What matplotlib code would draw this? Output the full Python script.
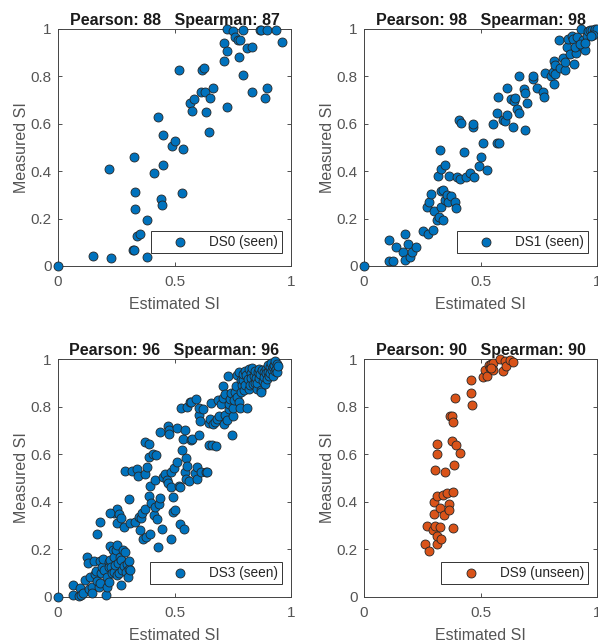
import matplotlib
matplotlib.use("Agg")
import matplotlib.pyplot as plt
import numpy as np

# -------------------------- data --------------------------
ds0_x = [0.0, 0.149, 0.227, 0.220, 0.323, 0.326, 0.327, 0.329, 0.332, 0.340, 0.352, 0.381, 0.380,
         0.412, 0.429, 0.441, 0.446, 0.452, 0.489, 0.504, 0.449, 0.535, 0.532, 0.518, 0.567, 0.585,
         0.575, 0.615, 0.618, 0.627, 0.633, 0.635, 0.652, 0.666, 0.648, 0.727, 0.713, 0.713, 0.724,
         0.727, 0.752, 0.759, 0.775, 0.772, 0.781, 0.792, 0.795, 0.812, 0.833, 0.833, 0.867, 0.873,
         0.896, 0.896, 0.887, 0.936, 0.961]
ds0_y = [0.0, 0.043, 0.034, 0.408, 0.069, 0.067, 0.460, 0.311, 0.240, 0.125, 0.133, 0.194, 0.039,
         0.394, 0.627, 0.282, 0.259, 0.553, 0.506, 0.529, 0.425, 0.494, 0.310, 0.826, 0.689, 0.705,
         0.656, 0.736, 0.826, 0.836, 0.735, 0.651, 0.710, 0.753, 0.565, 0.670, 0.865, 0.941, 0.907,
         1.000, 0.992, 0.966, 0.882, 0.955, 0.952, 0.997, 0.804, 0.920, 0.924, 0.736, 0.994, 0.994,
         0.994, 0.750, 0.708, 0.994, 0.947]

ds1_x = [0.0, 0.109, 0.106, 0.123, 0.139, 0.166, 0.177, 0.177, 0.189, 0.197, 0.206, 0.223, 0.255,
         0.269, 0.275, 0.280, 0.289, 0.295, 0.300, 0.315, 0.318, 0.320, 0.326, 0.329, 0.329, 0.332,
         0.338, 0.341, 0.346, 0.346, 0.355, 0.363, 0.361, 0.375, 0.392, 0.395, 0.401, 0.412, 0.429,
         0.438, 0.455, 0.472, 0.409, 0.418, 0.466, 0.469, 0.495, 0.504, 0.512, 0.529, 0.552, 0.569,
         0.572, 0.575, 0.581, 0.595, 0.607, 0.612, 0.615, 0.629, 0.641, 0.644, 0.647, 0.656, 0.664,
         0.667, 0.687, 0.690, 0.698, 0.690, 0.724, 0.727, 0.741, 0.767, 0.773, 0.775, 0.801, 0.813,
         0.815, 0.818, 0.821, 0.815, 0.835, 0.841, 0.856, 0.861, 0.864, 0.870, 0.876, 0.884, 0.893,
         0.898, 0.901, 0.910, 0.904, 0.916, 0.930, 0.936, 0.941, 0.947, 0.959, 0.961, 0.970, 0.979,
         0.987, 0.993, 0.999, 0.981, 0.926, 0.950, 0.973]
ds1_y = [0.0, 0.108, 0.022, 0.022, 0.081, 0.060, 0.135, 0.027, 0.093, 0.038, 0.060, 0.081, 0.149,
         0.247, 0.135, 0.268, 0.303, 0.153, 0.233, 0.192, 0.380, 0.205, 0.488, 0.410, 0.318, 0.248,
         0.192, 0.320, 0.428, 0.279, 0.299, 0.381, 0.269, 0.296, 0.268, 0.245, 0.377, 0.366, 0.480,
         0.374, 0.391, 0.377, 0.614, 0.604, 0.585, 0.599, 0.424, 0.461, 0.518, 0.405, 0.599, 0.520,
         0.647, 0.714, 0.520, 0.617, 0.611, 0.753, 0.637, 0.704, 0.588, 0.696, 0.707, 0.662, 0.801,
         0.644, 0.745, 0.728, 0.687, 0.575, 0.790, 0.801, 0.753, 0.734, 0.714, 0.815, 0.802, 0.818,
         0.867, 0.850, 0.809, 0.767, 0.954, 0.836, 0.878, 0.829, 0.861, 0.923, 0.959, 0.895, 0.969,
         0.959, 0.853, 0.899, 0.924, 0.968, 1.000, 0.927, 0.955, 0.910, 0.969, 0.992, 0.997, 0.994,
         0.986, 1.000, 1.000, 0.975, 0.937, 0.940, 0.969]

ds3_x = [0.0, 0.064, 0.066, 0.090, 0.095, 0.098, 0.108, 0.118, 0.126, 0.128, 0.134, 0.137, 0.145,
         0.146, 0.153, 0.158, 0.163, 0.166, 0.169, 0.175, 0.180, 0.180, 0.186, 0.190, 0.193, 0.198,
         0.206, 0.209, 0.212, 0.217, 0.217, 0.220, 0.223, 0.225, 0.229, 0.232, 0.235, 0.239, 0.242,
         0.245, 0.250, 0.253, 0.255, 0.258, 0.262, 0.266, 0.270, 0.272, 0.276, 0.279, 0.283, 0.286,
         0.290, 0.295, 0.300, 0.303, 0.306, 0.310, 0.240, 0.255, 0.223, 0.252, 0.260, 0.269, 0.180,
         0.283, 0.286, 0.303, 0.308, 0.318, 0.329, 0.338, 0.343, 0.346, 0.352, 0.358, 0.361, 0.366,
         0.372, 0.375, 0.378, 0.375, 0.382, 0.389, 0.389, 0.392, 0.394, 0.395, 0.398, 0.410, 0.406,
         0.415, 0.420, 0.418, 0.423, 0.429, 0.432, 0.438, 0.438, 0.446, 0.452, 0.460, 0.466, 0.472,
         0.474, 0.477, 0.477, 0.484, 0.486, 0.492, 0.495, 0.497, 0.502, 0.484, 0.509, 0.512, 0.518,
         0.524, 0.524, 0.529, 0.532, 0.535, 0.541, 0.544, 0.546, 0.548, 0.550, 0.552, 0.555, 0.563,
         0.567, 0.569, 0.572, 0.575, 0.587, 0.592, 0.595, 0.598, 0.604, 0.604, 0.607, 0.609, 0.615,
         0.624, 0.635, 0.638, 0.646, 0.646, 0.652, 0.655, 0.661, 0.666, 0.672, 0.678, 0.681, 0.687,
         0.692, 0.701, 0.707, 0.710, 0.712, 0.715, 0.718, 0.724, 0.730, 0.732, 0.735, 0.738, 0.741,
         0.747, 0.749, 0.752, 0.755, 0.758, 0.764, 0.767, 0.770, 0.775, 0.778, 0.781, 0.784, 0.787,
         0.790, 0.792, 0.795, 0.798, 0.801, 0.804, 0.807, 0.813, 0.815, 0.818, 0.821, 0.824, 0.827,
         0.830, 0.833, 0.839, 0.841, 0.844, 0.847, 0.850, 0.853, 0.856, 0.859, 0.862, 0.864, 0.867,
         0.870, 0.873, 0.876, 0.879, 0.882, 0.885, 0.888, 0.891, 0.894, 0.897, 0.900, 0.903, 0.906,
         0.909, 0.912, 0.915, 0.918, 0.921, 0.924, 0.927, 0.930, 0.933, 0.936, 0.939, 0.942, 0.945]
ds3_y = [0.0, 0.049, 0.007, 0.003, 0.039, 0.007, 0.018, 0.072, 0.170, 0.142, 0.035, 0.083, 0.043,
         0.015, 0.153, 0.098, 0.110, 0.068, 0.264, 0.043, 0.153, 0.058, 0.100, 0.127, 0.158, 0.115,
         0.007, 0.041, 0.086, 0.145, 0.127, 0.065, 0.155, 0.214, 0.127, 0.100, 0.196, 0.104, 0.169,
         0.133, 0.196, 0.218, 0.093, 0.141, 0.100, 0.166, 0.051, 0.155, 0.115, 0.197, 0.131, 0.190,
         0.106, 0.137, 0.082, 0.118, 0.150, 0.112, 0.351, 0.368, 0.354, 0.312, 0.349, 0.330, 0.317,
         0.294, 0.530, 0.410, 0.310, 0.529, 0.317, 0.536, 0.510, 0.338, 0.283, 0.333, 0.354, 0.242,
         0.650, 0.368, 0.251, 0.516, 0.547, 0.589, 0.642, 0.424, 0.266, 0.466, 0.396, 0.345, 0.601,
         0.380, 0.597, 0.493, 0.328, 0.208, 0.390, 0.418, 0.692, 0.284, 0.505, 0.516, 0.490, 0.720,
         0.481, 0.700, 0.683, 0.462, 0.524, 0.359, 0.420, 0.544, 0.366, 0.245, 0.712, 0.568, 0.468,
         0.462, 0.306, 0.796, 0.617, 0.662, 0.284, 0.525, 0.703, 0.494, 0.583, 0.797, 0.549, 0.487,
         0.821, 0.818, 0.660, 0.665, 0.523, 0.832, 0.547, 0.497, 0.681, 0.765, 0.793, 0.740, 0.524,
         0.792, 0.524, 0.524, 0.639, 0.732, 0.748, 0.815, 0.639, 0.728, 0.737, 0.634, 0.748, 0.826,
         0.760, 0.812, 0.838, 0.888, 0.726, 0.766, 0.852, 0.743, 0.927, 0.788, 0.810, 0.830, 0.858,
         0.681, 0.760, 0.796, 0.827, 0.860, 0.885, 0.841, 0.934, 0.945, 0.818, 0.796, 0.862, 0.913,
         0.891, 0.910, 0.937, 0.868, 0.951, 0.889, 0.933, 0.796, 0.915, 0.958, 0.873, 0.891, 0.941,
         0.920, 0.964, 0.895, 0.929, 0.900, 0.949, 0.922, 0.874, 0.901, 0.945, 0.957, 0.920, 0.938,
         0.871, 0.863, 0.953, 0.907, 0.945, 0.925, 0.893, 0.960, 0.941, 0.914, 0.976, 0.947, 0.930,
         0.966, 0.940, 0.985, 0.955, 0.965, 0.930, 0.975, 0.950, 0.990, 0.960, 0.980, 0.945, 0.970]

ds9_x = [0.260, 0.278, 0.269, 0.295, 0.300, 0.300, 0.303, 0.306, 0.312, 0.315, 0.312, 0.312, 0.312,
         0.326, 0.326, 0.332, 0.340, 0.343, 0.346, 0.355, 0.363, 0.366, 0.369, 0.378, 0.378, 0.381,
         0.383, 0.383, 0.386, 0.389, 0.395, 0.412, 0.461, 0.461, 0.464, 0.512, 0.518, 0.526, 0.535,
         0.541, 0.546, 0.555, 0.555, 0.584, 0.595, 0.607, 0.610, 0.627, 0.641, 0.544]
ds9_y = [0.224, 0.194, 0.299, 0.280, 0.399, 0.347, 0.299, 0.534, 0.642, 0.599, 0.426, 0.222, 0.256,
         0.375, 0.294, 0.242, 0.430, 0.343, 0.524, 0.438, 0.389, 0.365, 0.762, 0.759, 0.656, 0.734,
         0.442, 0.288, 0.555, 0.836, 0.638, 0.604, 0.910, 0.859, 0.808, 0.924, 0.955, 0.927, 0.973,
         0.963, 0.980, 0.983, 0.954, 1.000, 0.950, 0.990, 0.972, 0.994, 0.986, 0.962]

pearson = [88, 98, 96, 90]
spearman = [87, 98, 96, 90]
labels = ["DS0 (seen)", "DS1 (seen)", "DS3 (seen)", "DS9 (unseen)"]

# -------------------------- style --------------------------
plt.rcParams['font.family'] = ['Liberation Sans', 'DejaVu Sans']
BLUE = "#0072BD"
ORANGE = "#D95319"
GRAY = "#555555"
colors = [BLUE, BLUE, BLUE, ORANGE]
datasets = [(ds0_x, ds0_y), (ds1_x, ds1_y), (ds3_x, ds3_y), (ds9_x, ds9_y)]

fig = plt.figure(figsize=(5.98, 6.42), dpi=100)
W, H = 598, 642
# axes boxes in pixels: left, top, width, height
boxes = [(58, 29, 233, 237), (364, 29, 233, 237), (58, 359, 233, 238), (364, 359, 233, 238)]

for i, ((x, y), box) in enumerate(zip(datasets, boxes)):
    l, t, w, h = box
    ax = fig.add_axes([l / W, 1 - (t + h) / H, w / W, h / H])
    ax.scatter(x, y, s=42, color=colors[i], edgecolors="#262626", linewidths=0.6,
               label=labels[i], zorder=3, clip_on=False)
    ax.set_xlim(0, 1)
    ax.set_ylim(0, 1)
    ax.set_xticks([0, 0.5, 1])
    ax.set_xticklabels(["0", "0.5", "1"])
    ax.set_yticks([0, 0.2, 0.4, 0.6, 0.8, 1])
    ax.set_yticklabels(["0", "0.2", "0.4", "0.6", "0.8", "1"])
    ax.tick_params(direction="in", length=3, width=0.6, colors="#333333", labelcolor=GRAY,
                   labelsize=11, top=True, right=True)
    ax.tick_params(axis="x", pad=6.5)
    ax.tick_params(axis="y", pad=4.5)
    for sp in ax.spines.values():
        sp.set_color("#444444")
        sp.set_linewidth(0.7)
    ax.set_xlabel("Estimated SI", fontsize=11.5, color=GRAY, labelpad=5.5)
    ax.set_ylabel("Measured SI", fontsize=11.5, color=GRAY, labelpad=1.5)
    ax.set_title(f"Pearson: {pearson[i]}   Spearman: {spearman[i]}", fontsize=11.5,
                 fontweight="bold", color="#1a1a1a", pad=3)
    leg = ax.legend(loc="lower right", bbox_to_anchor=(1 - 9 / w, 13 / h), borderaxespad=0,
                    fontsize=9.8, frameon=True, fancybox=False, edgecolor="#333333",
                    framealpha=1, borderpad=0.3, handlelength=3.8, handletextpad=0.2,
                    scatterpoints=1)
    leg.get_frame().set_linewidth(0.7)
    for txt in leg.get_texts():
        txt.set_color("#262626")

plt.savefig("out.png", dpi=100)
